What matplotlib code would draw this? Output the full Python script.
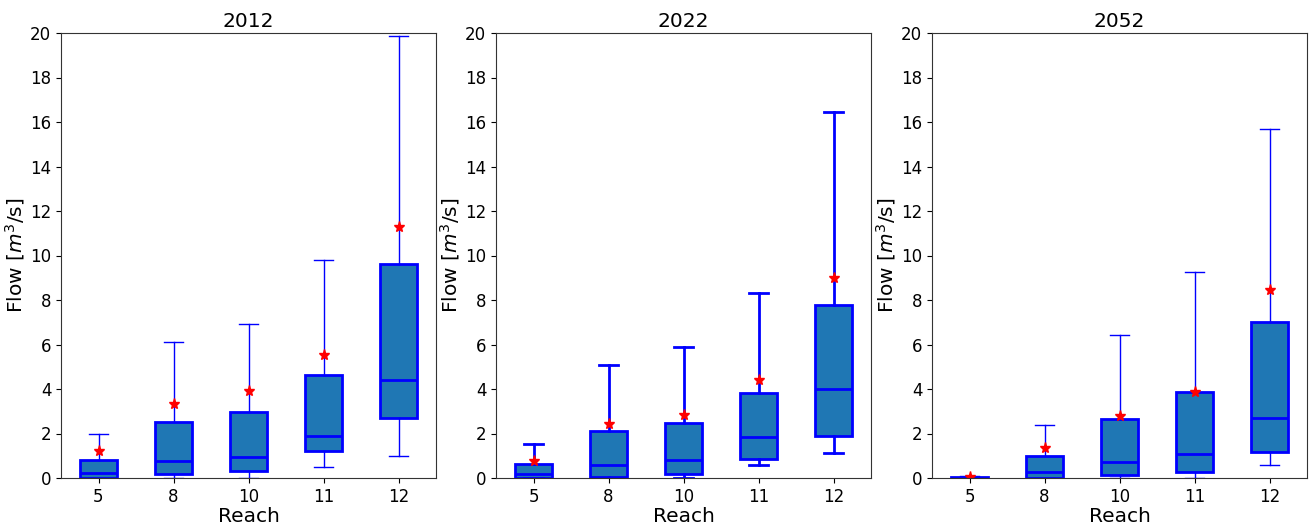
import numpy as np
import matplotlib.pyplot as plt

reaches = ['5', '8', '10', '11', '12']
years = ['2012', '2022', '2052']

# per year: whisker low, Q1, median, Q3, whisker high, mean
lo_2012 = [0.0, 0.0, 0.0, 0.48, 0.99]
q1_2012 = [0.0, 0.17, 0.33, 1.22, 2.7]
med_2012 = [0.22, 0.75, 0.94, 1.91, 4.4]
q3_2012 = [0.8, 2.5, 2.96, 4.63, 9.6]
hi_2012 = [1.96, 6.1, 6.9, 9.8, 19.85]
mean_2012 = [1.2, 3.33, 3.89, 5.55, 11.3]

lo_2022 = [0.0, 0.0, 0.0, 0.57, 1.11]
q1_2022 = [0.0, 0.05, 0.18, 0.85, 1.91]
med_2022 = [0.19, 0.6, 0.79, 1.85, 4.02]
q3_2022 = [0.63, 2.1, 2.47, 3.83, 7.76]
hi_2022 = [1.54, 5.1, 5.89, 8.3, 16.45]
mean_2022 = [0.75, 2.42, 2.84, 4.39, 9.0]

lo_2052 = [0.0, 0.0, 0.0, 0.0, 0.57]
q1_2052 = [0.0, 0.0, 0.12, 0.27, 1.17]
med_2052 = [0.01, 0.28, 0.72, 1.08, 2.69]
q3_2052 = [0.05, 0.97, 2.66, 3.87, 7.0]
hi_2052 = [0.08, 2.38, 6.43, 9.25, 15.7]
mean_2052 = [0.05, 1.36, 2.77, 3.85, 8.45]

data = {
    '2012': (lo_2012, q1_2012, med_2012, q3_2012, hi_2012, mean_2012),
    '2022': (lo_2022, q1_2022, med_2022, q3_2022, hi_2022, mean_2022),
    '2052': (lo_2052, q1_2052, med_2052, q3_2052, hi_2052, mean_2052),
}
whisk_lw = {'2012': 1.0, '2022': 2.0, '2052': 1.0}

fig = plt.figure(figsize=(13.13, 5.24), dpi=100)
lefts = [61, 496, 932]
for i, yr in enumerate(years):
    ax = fig.add_axes([lefts[i] / 1313, (524 - 478) / 524, 375 / 1313, 445 / 524])
    lo, q1, med, q3, hi, mn = data[yr]
    stats = []
    for j in range(len(reaches)):
        stats.append({'whislo': lo[j], 'q1': q1[j], 'med': med[j], 'q3': q3[j],
                      'whishi': hi[j], 'mean': mn[j], 'fliers': [], 'label': reaches[j]})
    ax.bxp(stats, widths=0.5, patch_artist=True, showmeans=True,
           boxprops=dict(facecolor='#1f77b4', edgecolor='blue', linewidth=2),
           medianprops=dict(color='blue', linewidth=2),
           whiskerprops=dict(color='blue', linewidth=whisk_lw[yr]),
           capprops=dict(color='blue', linewidth=whisk_lw[yr]),
           meanprops=dict(marker='*', markerfacecolor='red', markeredgecolor='red', markersize=8))
    ax.set_ylim(0, 20)
    ax.set_yticks(np.arange(0, 21, 2))
    ax.set_title(yr, fontsize=14.5, pad=4)
    ax.set_xlabel('Reach', fontsize=14.5, labelpad=1)
    ax.set_ylabel('Flow [$m^3$/s]', fontsize=14.5, labelpad=2)
    ax.tick_params(labelsize=12)
    for s in ax.spines.values():
        s.set_color('#333333')

fig.savefig('out.png', dpi=100)
